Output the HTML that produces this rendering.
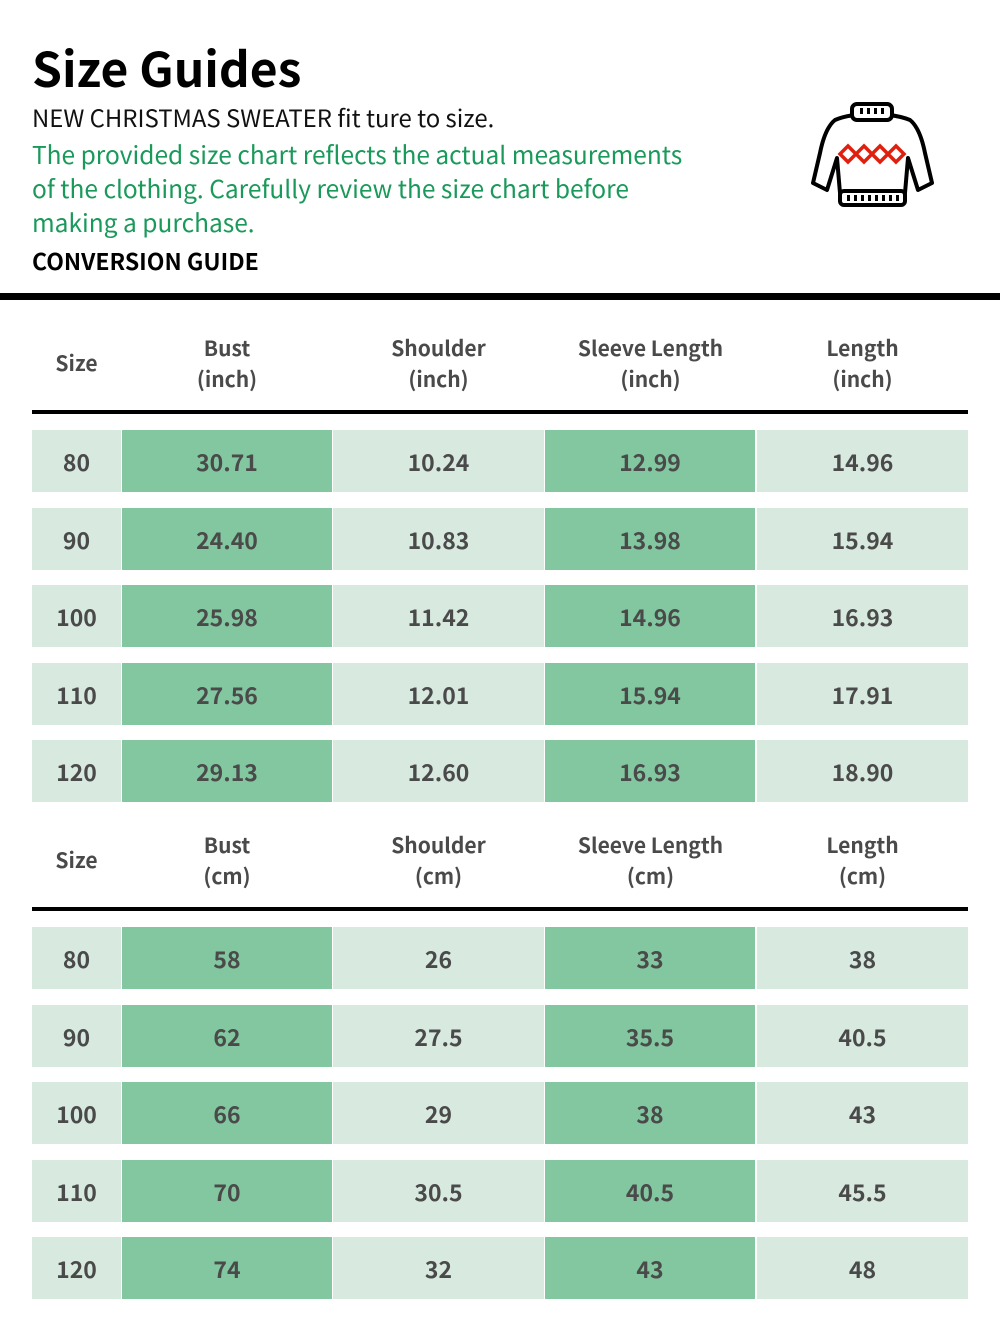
<!DOCTYPE html>
<html><head><meta charset="utf-8"><style>
body{margin:0;width:1000px;height:1331px;background:#fff;position:relative;font-family:"Liberation Sans","Noto Sans CJK SC",sans-serif;overflow:hidden}
.a{position:absolute}
.c{position:absolute;height:62px;line-height:62px;text-align:center;font-size:23px;font-weight:bold;color:#4a4a4a;font-family:"Noto Sans CJK SC","Liberation Sans",sans-serif}
.l{background:#d8eae0}.d{background:#82c7a0}
.h{position:absolute;text-align:center;font-size:21px;font-weight:bold;color:#4a4a4a;line-height:31px;font-family:"Noto Sans CJK SC","Liberation Sans",sans-serif}
</style></head><body>
<div class="a" style="left:32px;top:36px;font-size:48px;font-weight:bold;color:#000;font-family:'Noto Sans CJK SC','Liberation Sans',sans-serif;line-height:60px">Size Guides</div>
<div class="a" style="left:32px;top:102px;font-size:23.9px;color:#111;line-height:30px;font-family:'Noto Sans CJK SC','Liberation Sans',sans-serif;white-space:nowrap">NEW CHRISTMAS SWEATER fit ture to size.</div>
<div class="a" style="left:32px;top:138px;font-size:24.5px;color:#1a9a5a;line-height:34px;width:720px;font-family:'Noto Sans CJK SC','Liberation Sans',sans-serif;white-space:nowrap">The provided size chart reflects the actual measurements<br>of the clothing. Carefully review the size chart before<br>making a purchase.</div>
<div class="a" style="left:32px;top:245px;font-size:23px;font-weight:bold;color:#000;line-height:30px;font-family:'Noto Sans CJK SC','Liberation Sans',sans-serif;white-space:nowrap">CONVERSION GUIDE</div>
<svg class="a" style="left:805px;top:98px" width="135" height="112" viewBox="0 0 135 112">
<g fill="#fff" stroke="#000" stroke-width="4" stroke-linejoin="round">
<path d="M30 22 Q20 30 15 55 L8 85 L22 92 L32 60 L35 95 L100 95 L103 60 L113 92 L127 85 L120 55 Q115 30 105 22 Q90 16 67 16 Q44 16 30 22Z"/>
<rect x="47" y="6" width="40" height="16" rx="5"/>
<rect x="35" y="93" width="65" height="14" rx="4"/>
</g>
<g fill="#000"><rect x="55" y="10" width="3" height="6"/><rect x="62" y="10" width="3" height="6"/><rect x="69" y="10" width="3" height="6"/><rect x="76" y="10" width="3" height="6"/>
<rect x="42" y="97" width="3" height="6"/><rect x="49" y="97" width="3" height="6"/><rect x="56" y="97" width="3" height="6"/><rect x="63" y="97" width="3" height="6"/><rect x="70" y="97" width="3" height="6"/><rect x="77" y="97" width="3" height="6"/><rect x="84" y="97" width="3" height="6"/><rect x="91" y="97" width="3" height="6"/></g>
<g fill="none" stroke="#e0200f" stroke-width="3.5"><path d="M44 56 L52 48 L60 56 L52 64Z M60 56 L68 48 L76 56 L68 64Z M76 56 L84 48 L92 56 L84 64Z M92 56 L100 48 L108 56 L100 64Z" transform="translate(-9,0)"/></g>
</svg>
<div class="a" style="left:0;top:293px;width:1000px;height:7px;background:#000"></div>

<div class="h" style="left:32px;top:348px;width:89px">Size</div>
<div class="h" style="left:122px;top:333px;width:210px">Bust<br>(inch)</div>
<div class="h" style="left:333px;top:333px;width:211px">Shoulder<br>(inch)</div>
<div class="h" style="left:545px;top:333px;width:211px">Sleeve Length<br>(inch)</div>
<div class="h" style="left:757px;top:333px;width:211px">Length<br>(inch)</div>
<div class="a" style="left:32px;top:410px;width:936px;height:4px;background:#000"></div>

<div class="h" style="left:32px;top:845px;width:89px">Size</div>
<div class="h" style="left:122px;top:830px;width:210px">Bust<br>(cm)</div>
<div class="h" style="left:333px;top:830px;width:211px">Shoulder<br>(cm)</div>
<div class="h" style="left:545px;top:830px;width:211px">Sleeve Length<br>(cm)</div>
<div class="h" style="left:757px;top:830px;width:211px">Length<br>(cm)</div>
<div class="a" style="left:32px;top:907px;width:936px;height:4px;background:#000"></div>

<div id="t"></div>
<script>
var d1=[["80","30.71","10.24","12.99","14.96"],["90","24.40","10.83","13.98","15.94"],["100","25.98","11.42","14.96","16.93"],["110","27.56","12.01","15.94","17.91"],["120","29.13","12.60","16.93","18.90"]];
var d2=[["80","58","26","33","38"],["90","62","27.5","35.5","40.5"],["100","66","29","38","43"],["110","70","30.5","40.5","45.5"],["120","74","32","43","48"]];
var cols=[[32,89,"l"],[122,210,"d"],[333,211,"l"],[545,210,"d"],[757,211,"l"]];
var h="";
function tb(d,y0){d.forEach(function(r,i){var y=Math.round(y0+i*77.5);r.forEach(function(v,j){var c=cols[j];h+='<div class="c '+c[2]+'" style="left:'+c[0]+'px;top:'+y+'px;width:'+c[1]+'px">'+v+'</div>';});});}
tb(d1,430);tb(d2,927);
document.getElementById("t").innerHTML=h;
</script>
</body></html>
